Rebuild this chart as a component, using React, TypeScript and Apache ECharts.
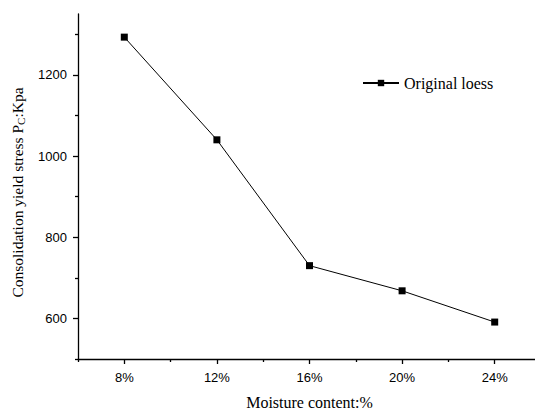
import React, { useEffect, useRef } from "react";
import * as echarts from "echarts";

const moisture = [8, 12, 16, 20, 24];
const yieldStress = [1293, 1040, 730, 668, 591];
const xLabelValues = [8, 12, 16, 20, 24];
const xMinorTicks = [6, 10, 14, 18, 22];
const yLabelValues = [600, 800, 1000, 1200];
const yMinorTicks = [500, 700, 900, 1100, 1300];

const serif = "'Liberation Serif', 'Times New Roman', serif";
const sans = "'Liberation Sans', Arial, sans-serif";

export default function App() {
  const ref = useRef<HTMLDivElement>(null);
  useEffect(() => {
    if (!ref.current) return;
    const chart = echarts.init(ref.current, undefined, { renderer: "svg" });
    const axisLine = { show: true, lineStyle: { color: "#000", width: 1.3 } };
    chart.setOption({
      animation: false,
      backgroundColor: "#fff",
      grid: {
        left: 78,
        top: 14,
        width: 463,
        bottom: 51,
        containLabel: false,
        outerBoundsMode: "none",
      },
      legend: {
        left: 357,
        top: 70,
        itemWidth: 36,
        itemHeight: 8,
        textStyle: { fontFamily: serif, fontSize: 16, color: "#000" },
        data: ["Original loess"],
      },
      xAxis: [
        {
          type: "value",
          min: 6,
          max: 26,
          name: "Moisture content:%",
          nameLocation: "middle",
          nameGap: 35,
          nameTextStyle: { fontFamily: serif, fontSize: 16, color: "#000" },
          axisLine,
          splitLine: { show: false },
          axisTick: {
            show: true,
            length: 5,
            customValues: xLabelValues,
            lineStyle: { color: "#000", width: 1.3 },
          },
          axisLabel: {
            customValues: xLabelValues,
            formatter: (v: number) => v + "%",
            fontFamily: sans,
            fontSize: 13,
            color: "#000",
            margin: 12,
          },
        },
        {
          type: "value",
          min: 6,
          max: 26,
          position: "bottom",
          axisLine: { show: false },
          splitLine: { show: false },
          axisLabel: { show: false },
          axisTick: {
            show: true,
            length: 3,
            customValues: xMinorTicks,
            lineStyle: { color: "#000", width: 1.3 },
          },
        },
      ],
      yAxis: [
        {
          type: "value",
          min: 500,
          max: 1350,
          name: "{t|Consolidation yield stress P}{s|C}{t|:Kpa}",
          nameLocation: "middle",
          nameGap: 52,
          nameRotate: 90,
          nameTextStyle: {
            padding: [0, 12, 0, 0],
            rich: {
              t: { fontFamily: serif, fontSize: 15.5, color: "#000" },
              s: { fontFamily: serif, fontSize: 11, color: "#000", verticalAlign: "bottom", padding: [7, 0, 0, 0] },
            },
          },
          axisLine,
          splitLine: { show: false },
          axisTick: {
            show: true,
            length: 5,
            customValues: yLabelValues,
            lineStyle: { color: "#000", width: 1.3 },
          },
          axisLabel: {
            customValues: yLabelValues,
            formatter: (v: number) => String(v),
            fontFamily: sans,
            fontSize: 13,
            color: "#000",
            margin: 11,
          },
        },
        {
          type: "value",
          min: 500,
          max: 1350,
          position: "left",
          axisLine: { show: false },
          splitLine: { show: false },
          axisLabel: { show: false },
          axisTick: {
            show: true,
            length: 3,
            customValues: yMinorTicks,
            lineStyle: { color: "#000", width: 1.3 },
          },
        },
      ],
      series: [
        {
          name: "Original loess",
          type: "line",
          xAxisIndex: 0,
          yAxisIndex: 0,
          data: moisture.map((m, i) => [m, yieldStress[i]]),
          symbol: "rect",
          symbolSize: 7,
          itemStyle: { color: "#000" },
          lineStyle: { color: "#000", width: 1 },
        },
      ],
    });
    return () => chart.dispose();
  }, []);
  return (
    <div
      ref={ref}
      style={{ position: "fixed", left: 0, top: 0, width: 535, height: 410, background: "#fff" }}
    />
  );
}
